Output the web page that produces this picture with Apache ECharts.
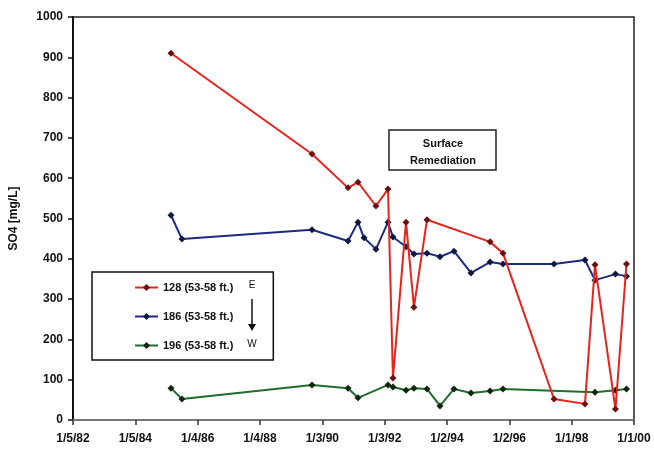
<!DOCTYPE html>
<html>
<head>
<meta charset="utf-8">
<script src="https://cdn.jsdelivr.net/npm/echarts@6/dist/echarts.min.js"></script>
<style>html,body{margin:0;padding:0;background:#fff}#c{width:654px;height:449px}</style>
</head>
<body>
<div id="c"></div>
<script>
var baseDate = '1982-01-05';
var tickLabels = ['1/5/82','1/5/84','1/4/86','1/4/88','1/3/90','1/3/92','1/2/94','1/2/96','1/1/98','1/1/00'];
var yTicks = [0,100,200,300,400,500,600,700,800,900,1000];

var dates128 = ['1985-02-26','1989-09-04','1990-10-31','1991-02-25','1991-09-23','1992-02-11','1992-04-09','1992-09-09','1992-12-11','1993-05-13','1995-05-21','1995-10-20','1997-06-08','1998-06-06','1998-10-01','1999-05-29','1999-10-05'];
var vals128  = [910,660,576,590,531,573,104,491,280,497,442,414,52,40,385,27,387];

var dates186 = ['1985-02-26','1985-07-04','1989-09-04','1990-10-31','1991-02-25','1991-05-06','1991-09-23','1992-02-11','1992-04-09','1992-09-09','1992-12-11','1993-05-13','1993-10-12','1994-03-25','1994-10-10','1995-05-21','1995-10-20','1997-06-08','1998-06-06','1998-10-01','1999-05-29','1999-10-05'];
var vals186  = [508,449,472,444,491,452,424,491,454,430,412,414,405,419,365,392,387,387,397,347,362,357];

var dates196 = ['1985-02-26','1985-07-04','1989-09-04','1990-10-31','1991-02-25','1992-02-11','1992-04-09','1992-09-09','1992-12-11','1993-05-13','1993-10-12','1994-03-25','1994-10-10','1995-05-21','1995-10-20','1998-10-01','1999-05-29','1999-10-05'];
var vals196  = [79,52,87,79,55,87,82,74,79,77,35,77,67,72,77,69,74,77];

var seriesNames = ['128 (53-58 ft.)','186 (53-58 ft.)','196 (53-58 ft.)'];

var DAY = 86400000;
var base = Date.parse(baseDate);
function toDays(d){ return Math.round((Date.parse(d) - base) / DAY); }
function pairs(ds, vs){ return ds.map(function(d,i){ return [toDays(d), vs[i]]; }); }

var STEP = 730;
var chart = echarts.init(document.getElementById('c'));
var font = '"Liberation Sans", Arial, sans-serif';
chart.setOption({
  animation: false,
  textStyle: { fontFamily: font },
  grid: { left: 73, right: 20, top: 17, bottom: 29, show: true, borderColor: '#222', borderWidth: 1.5, backgroundColor: '#fff' },
  xAxis: {
    type: 'value', min: 0, max: STEP * (tickLabels.length - 1), interval: STEP,
    splitLine: { show: false },
    axisLine: { lineStyle: { color: '#777', width: 2 } },
    axisTick: { show: true, inside: false, length: 5, lineStyle: { color: '#333', width: 1.5 } },
    axisLabel: { margin: 13, fontSize: 12, fontWeight: 'bold', color: '#111', fontFamily: font,
      formatter: function(v){ return tickLabels[Math.round(v / STEP)] || ''; } }
  },
  yAxis: {
    type: 'value', min: yTicks[0], max: yTicks[yTicks.length - 1], interval: 100,
    name: 'SO4 [mg/L]', nameLocation: 'middle', nameGap: 53, nameRotate: 90,
    nameTextStyle: { fontSize: 12, fontWeight: 'bold', color: '#111', fontFamily: font },
    splitLine: { show: false },
    axisLine: { lineStyle: { color: '#111', width: 2 } },
    axisTick: { show: true, length: 5, lineStyle: { color: '#111', width: 1.5 } },
    axisLabel: { margin: 10, fontSize: 12, fontWeight: 'bold', color: '#111', fontFamily: font,
      formatter: function(v){ return String(v); } }
  },
  legend: {
    orient: 'vertical', left: 92, top: 272,
    data: seriesNames,
    itemWidth: 23, itemHeight: 9, itemGap: 18,
    padding: [10, 40, 9, 42],
    borderColor: '#111', borderWidth: 1.5,
    textStyle: { fontSize: 11, fontWeight: 'bold', color: '#111', fontFamily: font }
  },
  graphic: [
    { type: 'rect', shape: { x: 389, y: 130, width: 107, height: 40 }, style: { fill: '#fff', stroke: '#222', lineWidth: 1.5 }, z: 100 },
    { type: 'text', style: { text: 'Surface', x: 443, y: 144, fill: '#111', font: 'bold 11px ' + font, textAlign: 'center', textVerticalAlign: 'middle' }, z: 101 },
    { type: 'text', style: { text: 'Remediation', x: 443, y: 161, fill: '#111', font: 'bold 11px ' + font, textAlign: 'center', textVerticalAlign: 'middle' }, z: 101 },
    { type: 'text', style: { text: 'E', x: 252, y: 285, fill: '#111', font: '10px ' + font, textAlign: 'center', textVerticalAlign: 'middle' }, z: 101 },
    { type: 'text', style: { text: 'W', x: 252, y: 344, fill: '#111', font: '10px ' + font, textAlign: 'center', textVerticalAlign: 'middle' }, z: 101 },
    { type: 'line', shape: { x1: 252, y1: 299, x2: 252, y2: 327 }, style: { stroke: '#111', lineWidth: 1.5 }, z: 101 },
    { type: 'polygon', shape: { points: [[248, 324], [256, 324], [252, 331]] }, style: { fill: '#111' }, z: 101 }
  ],
  series: [
    { name: seriesNames[0], type: 'line', data: pairs(dates128, vals128), z: 5,
      symbol: 'diamond', symbolSize: 7,
      lineStyle: { color: '#e8231b', width: 2 }, itemStyle: { color: '#6a1010' } },
    { name: seriesNames[1], type: 'line', data: pairs(dates186, vals186), z: 4,
      symbol: 'diamond', symbolSize: 7,
      lineStyle: { color: '#1d2a80', width: 2 }, itemStyle: { color: '#111840' } },
    { name: seriesNames[2], type: 'line', data: pairs(dates196, vals196), z: 3,
      symbol: 'diamond', symbolSize: 7,
      lineStyle: { color: '#1f6e2c', width: 2 }, itemStyle: { color: '#10240f' } }
  ]
});
</script>
</body>
</html>
